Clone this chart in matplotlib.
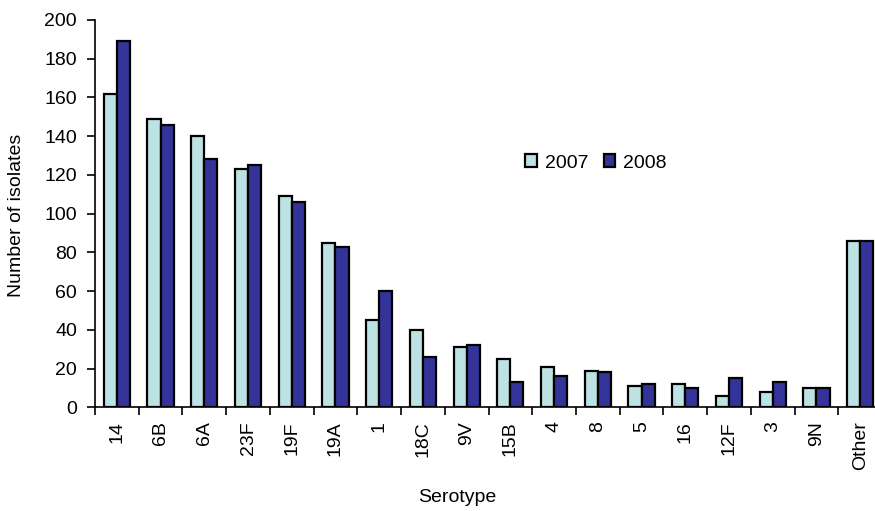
import matplotlib
matplotlib.use("Agg")
import matplotlib.pyplot as plt
import numpy as np

categories = ["14", "6B", "6A", "23F", "19F", "19A", "1", "18C", "9V", "15B",
              "4", "8", "5", "16", "12F", "3", "9N", "Other"]
values_2007 = [162, 149, 140, 123, 109, 85, 45, 40, 31, 25, 21, 19, 11, 12, 6, 8, 10, 86]
values_2008 = [189, 146, 128, 125, 106, 83, 60, 26, 32, 13, 16, 18, 12, 10, 15, 13, 10, 86]
series_labels = ["2007", "2008"]
y_ticks = list(range(0, 201, 20))

plt.rcParams['font.family'] = ['Liberation Sans', 'DejaVu Sans']
FS = 14

fig = plt.figure(figsize=(8.75, 5.11), dpi=100)
ax = fig.add_axes([95/875, (511-407.3)/511, (882-95)/875, (407.3-20)/511])

x = np.arange(len(categories))
w = 0.30
ax.bar(x - w/2, values_2007, width=w, color="#BDE2E4", edgecolor="black", linewidth=1.6, label=series_labels[0])
ax.bar(x + w/2, values_2008, width=w, color="#333399", edgecolor="black", linewidth=1.6, label=series_labels[1])

ax.set_xlim(-0.5, len(categories) - 0.5)
ax.set_ylim(0, 200)
ax.set_yticks(y_ticks)
ax.set_yticklabels([str(t) for t in y_ticks], fontsize=FS)
ax.set_xticks(x)
ax.set_xticklabels(categories, rotation=90, fontsize=FS)
ax.set_xticks(np.arange(-0.5, len(categories), 1.0), minor=True)
ax.tick_params(axis='x', which='major', length=0, pad=10)
ax.tick_params(axis='x', which='minor', length=6, width=1.2, direction='out')
ax.tick_params(axis='y', length=6, width=1.2, direction='out', pad=7)

for s in ['top', 'right']:
    ax.spines[s].set_visible(False)
for s in ['left', 'bottom']:
    ax.spines[s].set_linewidth(1.2)

fig.text(17/875, 1 - 215/511, "Number of isolates", fontsize=FS, rotation=90,
         ha='center', va='center')
fig.text(457/875, 1 - 497/511, "Serotype", fontsize=FS, ha='center', va='center')

leg = ax.legend(loc='center', bbox_to_anchor=((596-95)/787, (407.3-163)/387.3),
                ncol=2, frameon=False, fontsize=FS, handlelength=0.6, handleheight=0.6,
                handletextpad=0.4, columnspacing=0.8)

fig.savefig("out.png", dpi=100)
